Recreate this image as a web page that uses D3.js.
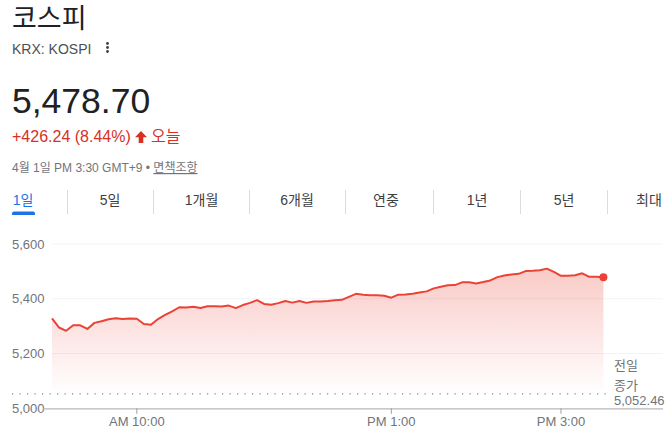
<!DOCTYPE html>
<html><head><meta charset="utf-8">
<script src="https://cdn.jsdelivr.net/npm/d3@7"></script>
<style>
html,body{margin:0;padding:0;background:#fff;}
svg{display:block;font-family:"Liberation Sans",Arial,"Noto Sans CJK KR",sans-serif;}
</style></head>
<body>
<script>
// ---- data ----
const title = "코스피";
const ticker = "KRX: KOSPI";
const lastPrice = "5,478.70";
const change = "+426.24 (8.44%)";
const changeLabel = "오늘";
const dateText = "4월 1일 PM 3:30 GMT+9 • ";
const disclaimer = "면책조항";
const tabs = ["1일","5일","1개월","6개월","연중","1년","5년","최대"];
const yTicks = [5000, 5200, 5400, 5600];
const xTicks = [600, 780, 900]; // minutes since midnight
const xTickLabels = ["AM 10:00", "PM 1:00", "PM 3:00"];
const prevClose = 5052.46;
const prevCloseLabel = ["전일", "종가", "5,052.46"];
const startMinute = 540; // 9:00
const stepMinutes = 5;
const values = [
 5328,5295,5283,5303,5303,5290,5312,5318,5325,5329,
 5326,5328,5327,5308,5305,5326,5341,5354,5369,5368,
 5371,5366,5373,5373,5372,5375,5366,5377,5385,5395,
 5381,5378,5384,5392,5386,5392,5385,5390,5390,5392,
 5395,5396,5407,5418,5415,5413,5413,5411,5404,5415,
 5416,5418,5423,5427,5438,5444,5449,5450,5460,5460,
 5456,5461,5467,5479,5485,5489,5491,5501,5502,5504,
 5510,5498,5484,5484,5486,5493,5480,5480,5478.70
];
const data = values.map((v,i)=>({t:startMinute+i*stepMinutes, v}));

const W=672,H=435;
const svg = d3.select("body").append("svg").attr("width",W).attr("height",H);

// ---- header ----
svg.append("text").attr("x",12).attr("y",27.5).attr("font-size",27).attr("fill","#202124").text(title);
svg.append("text").attr("x",12).attr("y",54).attr("font-size",14).attr("fill","#4d5156").text(ticker);
[43.5,47.5,51.5].forEach(cy=>svg.append("circle").attr("cx",107.5).attr("cy",cy).attr("r",1.4).attr("fill","#3c4043"));
svg.append("text").attr("x",12).attr("y",113).attr("font-size",35.5).attr("fill","#202124").text(lastPrice);
svg.append("text").attr("x",12).attr("y",142).attr("font-size",16).attr("fill","#d93025").text(change);
// up arrow
svg.append("path").attr("fill","#d93025")
  .attr("d","M141,131 L147,137.2 L143.3,137.2 L143.3,143 L138.7,143 L138.7,137.2 L135,137.2 Z");
svg.append("text").attr("x",151).attr("y",142).attr("font-size",16).attr("fill","#d93025").text(changeLabel);
const dt = svg.append("text").attr("x",12).attr("y",172).attr("font-size",12).attr("fill","#70757a");
dt.append("tspan").text(dateText);
dt.append("tspan").attr("text-decoration","underline").text(disclaimer);

// ---- tabs ----
const tabCenters = [23,110,201.5,297,386,477,564,649];
const sepX = [67.5,153.5,249.5,345.5,433.5,520.5,607.5];
sepX.forEach(x=>svg.append("line").attr("x1",x).attr("x2",x).attr("y1",190).attr("y2",214).attr("stroke","#dadce0").attr("stroke-width",1));
tabs.forEach((t,i)=>{
  svg.append("text").attr("x",tabCenters[i]).attr("y",205).attr("text-anchor","middle")
    .attr("font-size",14).attr("fill", i===0?"#1a73e8":"#3c4043").text(t);
});
svg.append("path").attr("fill","#1a73e8").attr("d","M12,215 L12,213.5 Q12,211.5 14,211.5 L33,211.5 Q35,211.5 35,213.5 L35,215 Z");

// ---- chart ----
const x = d3.scaleLinear().domain([540, 930]).range([52, 603.4]);
const y = d3.scaleLinear().domain([5000, 5600]).range([408.3, 244]);

// gridlines
svg.append("g").selectAll("line").data(yTicks.filter(d=>d>5000)).join("line")
  .attr("x1",52).attr("x2",663).attr("y1",d=>y(d)).attr("y2",d=>y(d))
  .attr("stroke","#f1f3f4").attr("stroke-width",1);
svg.append("g").selectAll("text").data(yTicks).join("text")
  .attr("x",12).attr("y",d=>y(d)+4.5).attr("font-size",13).attr("fill","#70757a")
  .text(d=>d3.format(",")(d));

// gradient area
const defs = svg.append("defs");
const grad = defs.append("linearGradient").attr("id","g").attr("gradientUnits","userSpaceOnUse")
  .attr("x1",0).attr("x2",0).attr("y1",y(5510)).attr("y2",y(5050));
grad.append("stop").attr("offset","0").attr("stop-color","#ea4335").attr("stop-opacity",0.28);
grad.append("stop").attr("offset","1").attr("stop-color","#ea4335").attr("stop-opacity",0);
svg.append("path").datum(data).attr("fill","url(#g)")
  .attr("d", d3.area().x(d=>x(d.t)).y0(y(5000)).y1(d=>y(d.v)));

// previous close dotted line
svg.append("line").attr("x1",12).attr("x2",607).attr("y1",y(prevClose)).attr("y2",y(prevClose))
  .attr("stroke","#80868b").attr("stroke-width",1.2).attr("stroke-dasharray","1.2,6.3");

// axis line
svg.append("line").attr("x1",43).attr("x2",663).attr("y1",y(5000)+0.5).attr("y2",y(5000)+0.5)
  .attr("stroke","#b4b7bb").attr("stroke-width",1.2);
const xt = svg.append("g");
xTicks.forEach((t,i)=>{
  xt.append("line").attr("x1",x(t)).attr("x2",x(t)).attr("y1",y(5000)).attr("y2",y(5000)+5.5)
    .attr("stroke","#9aa0a6").attr("stroke-width",1);
  xt.append("text").attr("x",x(t)).attr("y",426).attr("text-anchor","middle").attr("font-size",13)
    .attr("fill","#70757a").text(xTickLabels[i]);
});

// line
svg.append("path").datum(data).attr("fill","none").attr("stroke","#ea4335").attr("stroke-width",2)
  .attr("stroke-linejoin","round")
  .attr("d", d3.line().x(d=>x(d.t)).y(d=>y(d.v)));
const last = data[data.length-1];
svg.append("circle").attr("cx",x(last.t)).attr("cy",y(last.v)).attr("r",4).attr("fill","#ea4335");

// prev close label
[370,390,405].forEach((yy,i)=>{
  svg.append("text").attr("x",614).attr("y",yy).attr("font-size",13).attr("fill","#70757a").text(prevCloseLabel[i]);
});
</script>
</body></html>
